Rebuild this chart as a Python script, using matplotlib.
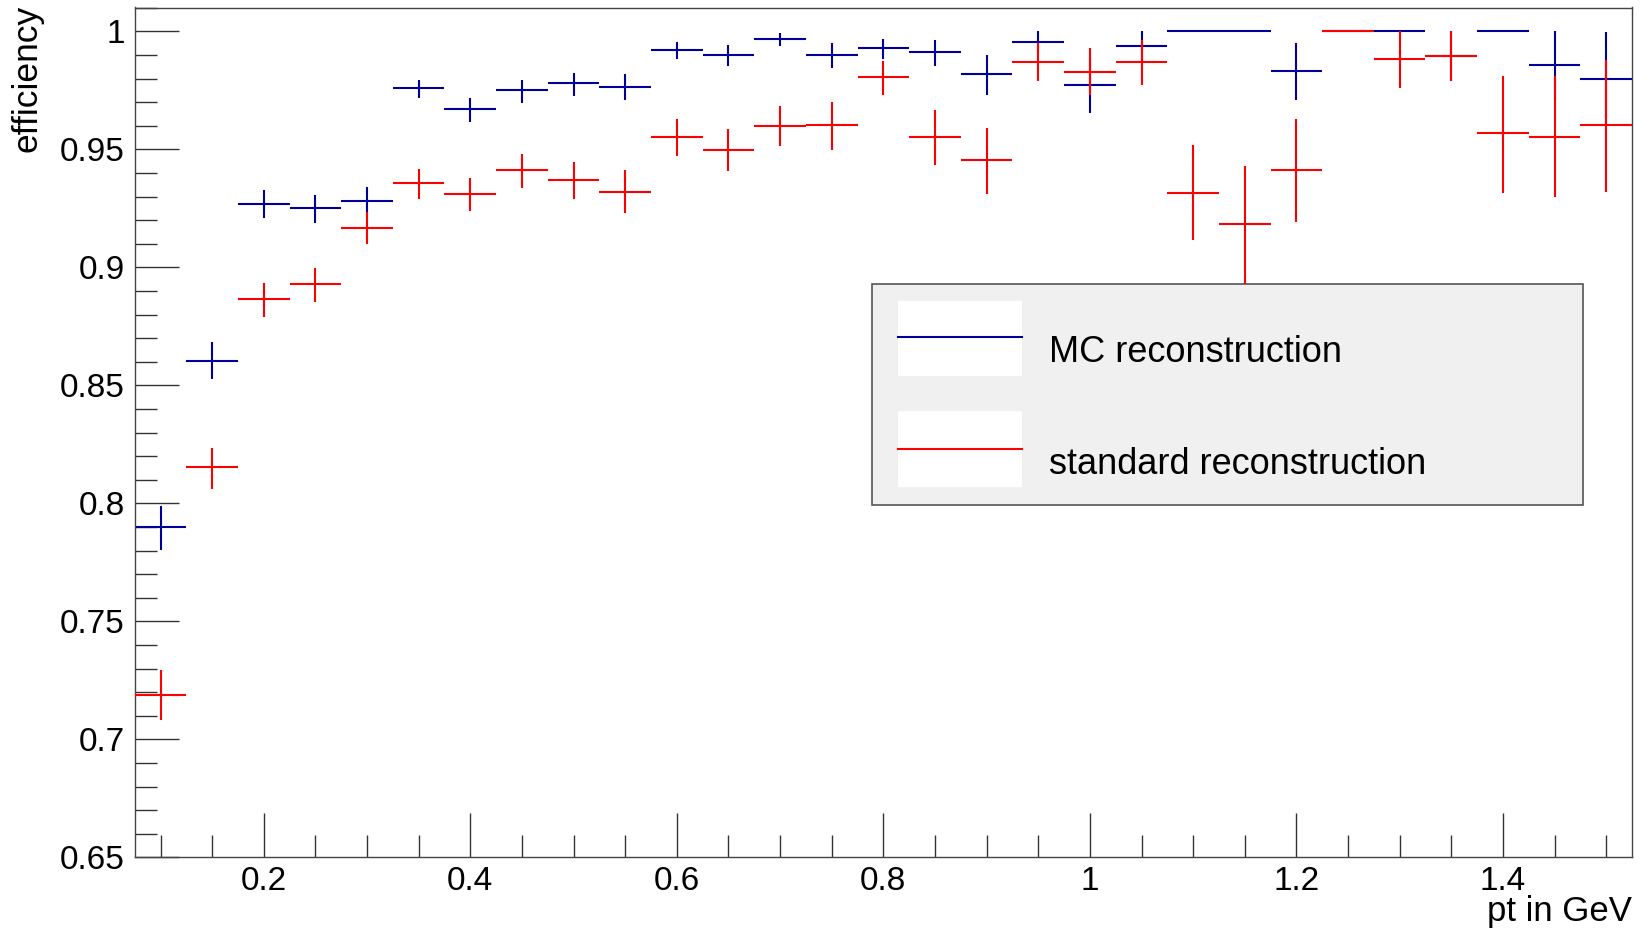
import matplotlib
matplotlib.use("Agg")
import matplotlib.pyplot as plt
from matplotlib.patches import Rectangle
from matplotlib.lines import Line2D
from matplotlib.ticker import MultipleLocator

plt.rcParams['font.family'] = ['Liberation Sans', 'DejaVu Sans']

# bin centres (pt in GeV), bin half width 0.025
pt = [0.10, 0.15, 0.20, 0.25, 0.30, 0.35, 0.40, 0.45, 0.50, 0.55,
      0.60, 0.65, 0.70, 0.75, 0.80, 0.85, 0.90, 0.95, 1.00, 1.05,
      1.10, 1.15, 1.20, 1.25, 1.30, 1.35, 1.40, 1.45, 1.50]
bin_half = 0.025

mc_eff = [0.790, 0.8605, 0.927, 0.925, 0.928, 0.976, 0.967, 0.975, 0.978, 0.9765,
          0.992, 0.990, 0.9966, 0.990, 0.9928, 0.9914, 0.982, 0.9955, 0.9773, 0.9938,
          1.0, 1.0, 0.9832, 1.0, 1.0, 0.9897, 1.0, 0.9856, 0.980]
mc_lo = [0.0098, 0.0077, 0.0059, 0.0064, 0.0060, 0.0044, 0.0056, 0.0052, 0.0055, 0.0055,
         0.0036, 0.0047, 0.0028, 0.0055, 0.0045, 0.0059, 0.0088, 0.0045, 0.0117, 0.0062,
         0.0, 0.0, 0.0123, 0.0, 0.0, 0.0107, 0.0, 0.0145, 0.0200]
mc_hi = [0.0090, 0.0077, 0.0056, 0.0057, 0.0059, 0.0035, 0.0047, 0.0042, 0.0044, 0.0054,
         0.0034, 0.0040, 0.0025, 0.0049, 0.0041, 0.0049, 0.0081, 0.0045, 0.0117, 0.0062,
         0.0, 0.0, 0.0117, 0.0, 0.0, 0.0103, 0.0, 0.0144, 0.0199]

std_eff = [0.7189, 0.8153, 0.8865, 0.8928, 0.9166, 0.9358, 0.9312, 0.9413, 0.9372, 0.9321,
           0.9554, 0.9499, 0.9599, 0.9603, 0.9805, 0.9554, 0.9454, 0.9869, 0.9828, 0.9869,
           0.9317, 0.9185, 0.9413, 1.0, 0.9882, 0.9897, 0.9568, 0.9554, 0.9605]
std_lo = [0.0105, 0.0090, 0.0076, 0.0073, 0.0068, 0.0068, 0.0072, 0.0078, 0.0082, 0.0090,
          0.0081, 0.0091, 0.0086, 0.0105, 0.0074, 0.0119, 0.0145, 0.0080, 0.0097, 0.0096,
          0.0203, 0.0255, 0.0222, 0.0, 0.0123, 0.0107, 0.0251, 0.0254, 0.0284]
std_hi = [0.0105, 0.0081, 0.0068, 0.0068, 0.0068, 0.0058, 0.0066, 0.0066, 0.0076, 0.0090,
          0.0074, 0.0086, 0.0086, 0.0096, 0.0070, 0.0113, 0.0137, 0.0080, 0.0100, 0.0094,
          0.0201, 0.0244, 0.0215, 0.0, 0.0118, 0.0103, 0.0244, 0.0256, 0.0273]

labels = ["MC reconstruction", "standard reconstruction"]
blue = "#000099"
red = "#ff0000"

W, H = 1643, 931
fig = plt.figure(figsize=(W / 100, H / 100), dpi=100)
ax = fig.add_axes([134.7 / W, 1 - 857.4 / H, (1632 - 134.7) / W, (857.4 - 7.5) / H])

ax.errorbar(pt, mc_eff, xerr=bin_half, yerr=[mc_lo, mc_hi], fmt='none',
            ecolor=blue, elinewidth=1.5, capsize=0, zorder=2)
ax.errorbar(pt, std_eff, xerr=bin_half, yerr=[std_lo, std_hi], fmt='none',
            ecolor=red, elinewidth=1.5, capsize=0, zorder=3)

ax.set_xlim(0.075, 1.525)
ax.set_ylim(0.65, 1.0101)
ax.xaxis.set_major_locator(MultipleLocator(0.2))
ax.xaxis.set_minor_locator(MultipleLocator(0.05))
ax.yaxis.set_major_locator(MultipleLocator(0.05))
ax.yaxis.set_minor_locator(MultipleLocator(0.01))
ax.xaxis.set_major_formatter(plt.FuncFormatter(lambda v, p: f"{v:g}"))
ax.yaxis.set_major_formatter(plt.FuncFormatter(lambda v, p: f"{v:g}"))
ax.tick_params(which='both', direction='in', top=False, right=False,
               width=1, color='#333333', labelsize=24)
ax.tick_params(which='major', length=32)
ax.tick_params(which='minor', length=16)
ax.tick_params(axis='y', pad=7)
ax.tick_params(axis='x', pad=6)
for s in ax.spines.values():
    s.set_color('#444444')
    s.set_linewidth(1)

fig.text(27 / W, 1 - 5 / H, "efficiency", rotation=90, ha='center', va='top', fontsize=25.5)
fig.text(1632 / W, 1 - 921 / H, "pt in GeV", ha='right', va='baseline', fontsize=25)

# legend box drawn by hand (ROOT style)
tf = fig.transFigure
ax.add_artist(Rectangle((872 / W, 1 - 505 / H), 711 / W, 221 / H, transform=tf,
                        facecolor='#f0f0f0', edgecolor='#555555', lw=1.2,
                        zorder=10, clip_on=False))
rows = [(300.7, 376, 337.4, 362.5, blue), (410.7, 487, 448.5, 473.5, red)]
for (top, bot, ly, base, col), lab in zip(rows, labels):
    ax.add_artist(Rectangle((898 / W, 1 - bot / H), 124 / W, (bot - top) / H,
                            transform=tf, facecolor='white', edgecolor='none',
                            zorder=11, clip_on=False))
    ax.add_artist(Line2D([898 / W, 1022 / W], [1 - ly / H, 1 - ly / H], transform=tf,
                         color=col, lw=1.5, zorder=12, clip_on=False))
    ax.text(1049 / W, 1 - base / H, lab, transform=tf, ha='left', va='baseline',
            fontsize=26, zorder=12)

fig.savefig("out.png", dpi=100)
